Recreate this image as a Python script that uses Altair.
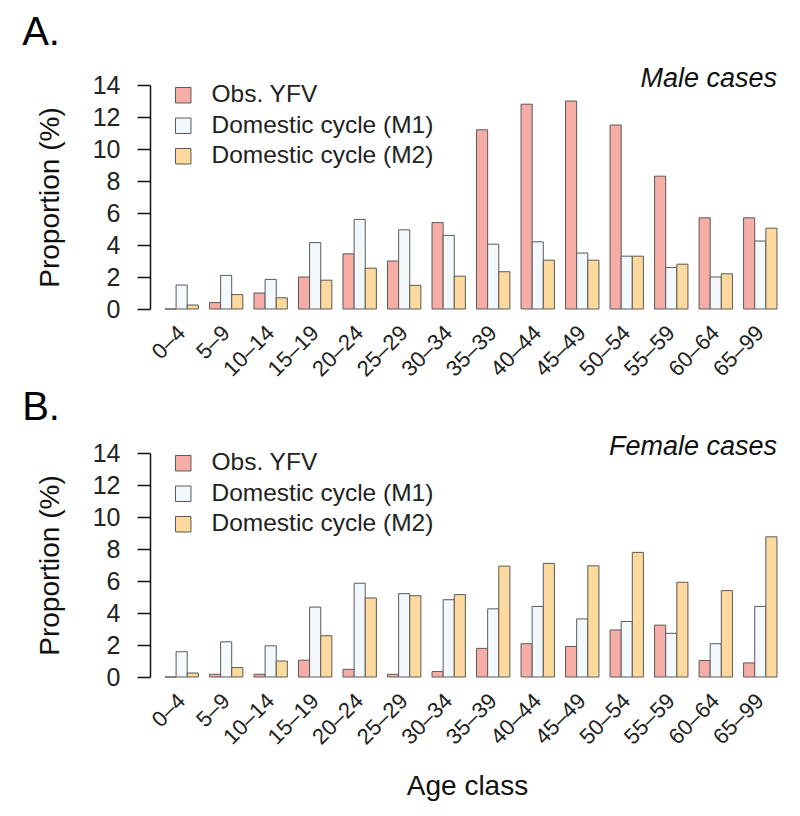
import altair as alt
import pandas as pd

age_classes = ["0–4", "5–9", "10–14", "15–19", "20–24", "25–29", "30–34",
               "35–39", "40–44", "45–49", "50–54", "55–59", "60–64", "65–99"]
series = ["Obs. YFV", "Domestic cycle (M1)", "Domestic cycle (M2)"]
colors = ["#F5ADA6", "#F3F8FC", "#FDD99D"]

male_obs = [0.0, 0.4, 1.0, 2.0, 3.45, 3.0, 5.4, 11.2, 12.8, 13.0, 11.5, 8.3, 5.7, 5.7]
male_m1 = [1.5, 2.1, 1.85, 4.15, 5.6, 4.95, 4.6, 4.05, 4.2, 3.5, 3.3, 2.6, 2.0, 4.25]
male_m2 = [0.25, 0.9, 0.7, 1.8, 2.55, 1.48, 2.05, 2.33, 3.05, 3.05, 3.3, 2.8, 2.2, 5.05]

female_obs = [0.0, 0.17, 0.17, 1.05, 0.48, 0.17, 0.34, 1.79, 2.08, 1.91, 2.94, 3.24, 1.03, 0.88]
female_m1 = [1.58, 2.2, 1.95, 4.37, 5.86, 5.21, 4.83, 4.26, 4.41, 3.63, 3.47, 2.73, 2.08, 4.41]
female_m2 = [0.25, 0.59, 1.0, 2.58, 4.94, 5.08, 5.15, 6.93, 7.1, 6.95, 7.79, 5.92, 5.4, 8.76]

FONT = "Liberation Sans"
W, H = 634, 224


def long_df(obs, m1, m2):
    rows = []
    for name, vals in zip(series, [obs, m1, m2]):
        for a, v in zip(age_classes, vals):
            rows.append({"age": a, "series": name, "value": v})
    return pd.DataFrame(rows)


def panel(df, letter, label, x_title, title_offset):
    bars = alt.Chart(df).mark_bar(stroke="#5a5a5a", strokeWidth=1).encode(
        x=alt.X("age:N", sort=age_classes,
                scale=alt.Scale(paddingInner=0.25, paddingOuter=0.247, align=0.68),
                axis=alt.Axis(title=x_title, labelAngle=-45, labelAlign="right",
                              labelBaseline="middle", domain=False, ticks=False,
                              tickSize=0, labelPadding=20, labelFontSize=22,
                              labelColor="#222222", titleFontSize=28,
                              titleFontWeight="normal", titleColor="#111111",
                              titlePadding=24, labelFont=FONT, titleFont=FONT)),
        xOffset=alt.XOffset("series:N", sort=series,
                            scale=alt.Scale(paddingInner=0, paddingOuter=0)),
        y=alt.Y("value:Q", scale=alt.Scale(domain=[0, 14], nice=False),
                axis=alt.Axis(values=[0, 2, 4, 6, 8, 10, 12, 14], title="Proportion (%)",
                              grid=False, domainColor="#111111", domainWidth=1.5,
                              tickColor="#111111", tickWidth=1.5, tickSize=13,
                              labelPadding=17, labelFontSize=25, labelColor="#222222",
                              titleFontSize=28, titleFontWeight="normal",
                              titleColor="#111111", titlePadding=28,
                              labelFont=FONT, titleFont=FONT)),
        fill=alt.Fill("series:N", sort=series,
                      scale=alt.Scale(domain=series, range=colors),
                      legend=alt.Legend(title=None, orient="none", legendX=21, legendY=-2,
                                        symbolType="square", symbolSize=240,
                                        symbolStrokeColor="#5a5a5a", symbolStrokeWidth=1,
                                        labelFontSize=24.5, labelFont=FONT, labelColor="#222222",
                                        labelOffset=16, rowPadding=5.5, padding=0,
                                        labelLimit=0)),
    )
    txt = alt.Chart(pd.DataFrame({"t": [label]})).mark_text(
        font=FONT, fontSize=27, fontStyle="italic", align="right",
        baseline="alphabetic", color="#111111"
    ).encode(text="t:N", x=alt.value(W - 7), y=alt.value(2))
    return alt.layer(bars, txt).properties(
        width=W, height=H,
        title=alt.TitleParams(letter, anchor="start", frame="bounds", fontSize=40,
                              fontWeight="normal", font=FONT, color="#000000",
                              dx=-14, offset=title_offset),
    )


chart_a = panel(long_df(male_obs, male_m1, male_m2), "A.", "Male cases", None, 12)
chart_b = panel(long_df(female_obs, female_m1, female_m2), "B.", "Female cases", "Age class", 5)

chart = alt.vconcat(chart_a, chart_b, spacing=144, bounds="flush").properties(
    padding={"left": 14, "top": 5, "right": 5, "bottom": 5}
).configure_view(stroke=None).resolve_scale(fill="independent")

chart.save("out.html", embed_options={"renderer": "svg", "actions": False})
